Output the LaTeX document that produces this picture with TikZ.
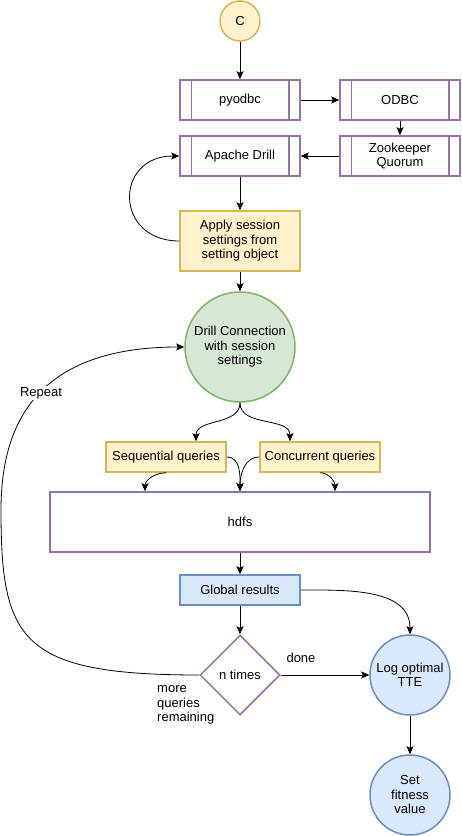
\documentclass[tikz,border=0pt]{standalone}
\usepackage{fontspec}
\setmainfont{Liberation Sans}
\usepackage{tikz}
\usetikzlibrary{arrows.meta}
\usetikzlibrary{shapes.geometric}

\definecolor{yelfill}{HTML}{FFF2CC}
\definecolor{yelline}{HTML}{D6B656}
\definecolor{grnfill}{HTML}{D5E8D4}
\definecolor{grnline}{HTML}{82B366}
\definecolor{bluefill}{HTML}{DAE8FC}
\definecolor{blueline}{HTML}{6C8EBF}
\definecolor{purline}{HTML}{9673A6}

\begin{document}
\begin{tikzpicture}[x=1pt,y=1pt,
    font=\fontsize{13}{14.5}\selectfont,
    every node/.style={align=center, inner sep=0pt},
    subproc/.style={draw=purline, line width=1.5pt, fill=white, minimum width=120pt, minimum height=40pt},
    yelbox/.style={draw=yelline, line width=1.5pt, fill=yelfill, minimum width=120pt},
    bluebox/.style={draw=blueline, line width=1.5pt, fill=bluefill, minimum width=120pt, minimum height=30pt},
    bluecirc/.style={circle, draw=blueline, line width=1.5pt, fill=bluefill, minimum size=80pt},
    flow/.style={-{Stealth[length=8pt,width=7pt,inset=1.5pt]}, line width=0.8pt}]
  \useasboundingbox (0,0) rectangle (462,836);
  \fill[white] (0,0) rectangle (462,836);

  % boxes
  \node [circle, draw=yelline, line width=1.5pt, fill=yelfill, minimum size=40pt] (c) at (240,815) {C};
  \node [subproc] (pyodbc) at (240,736) {pyodbc};
  \node [subproc] (odbc) at (400,736) {ODBC};
  \node [subproc] (drill) at (240,680) {Apache Drill};
  \node [subproc] (zk) at (400,680) {Zookeeper\\Quorum};
  \foreach \n in {pyodbc,odbc,drill,zk} {
    \draw [purline, line width=1.5pt] ([xshift=12pt]\n.north west) -- ([xshift=12pt]\n.south west);
    \draw [purline, line width=1.5pt] ([xshift=-12pt]\n.north east) -- ([xshift=-12pt]\n.south east);
  }
  \node [yelbox, minimum height=60pt] (apply) at (240,595) {Apply session\\settings from\\setting object};
  \node [circle, draw=grnline, line width=1.5pt, fill=grnfill, minimum size=110pt] (conn) at (240,489) {Drill Connection\\with session\\settings};
  \node [yelbox, minimum height=30pt] (seq) at (166,379) {Sequential queries};
  \node [yelbox, minimum height=30pt] (conc) at (320,379) {Concurrent queries};
  \node [draw=purline, line width=1.5pt, minimum width=380pt, minimum height=60pt] (hdfs) at (240,314) {hdfs};
  \node [bluebox] (glob) at (240,246) {Global results};
  \node [diamond, draw=purline, line width=1.5pt, fill=white, minimum width=80pt, minimum height=80pt] (ntimes) at (240,161) {n times};
  \node [bluecirc] (log) at (410,161) {Log optimal\\TTE};
  \node [bluecirc] (fit) at (410,41) {Set\\fitness\\value};

  % arrows
  \draw [flow] (c) -- (pyodbc);
  \draw [flow] (pyodbc) -- (odbc);
  \draw [flow] (odbc) -- (zk);
  \draw [flow] (zk) -- (drill);
  \draw [flow] (drill) -- (apply);
  \draw [flow] (apply.west) .. controls (114,595) and (114,680) .. (drill.west);
  \draw [flow] (apply) -- (conn);
  \draw [flow] (conn.south) to[out=-90,in=90] ([xshift=30pt]seq.north);
  \draw [flow] (conn.south) to[out=-90,in=90] ([xshift=-30pt]conc.north);
  \draw [flow] (seq.south) to[out=180,in=90] ([xshift=-95pt]hdfs.north);
  \draw [flow] (seq.east) to[out=0,in=90] (hdfs.north);
  \draw [flow] (conc.west) to[out=180,in=90] (hdfs.north);
  \draw [flow] (conc.south) to[out=0,in=90] ([xshift=95pt]hdfs.north);
  \draw [flow] (hdfs) -- (glob);
  \draw [flow] (glob) -- (ntimes);
  \draw [flow] (glob.east) to[out=0,in=90] (log.north);
  \draw [flow] (ntimes.east) -- (log.west);
  \draw [flow] (log) -- (fit);
  \draw [flow] (ntimes.west) .. controls (20,161) and (1,196) .. (1,326)
    .. controls (1,416) and (40,489) .. (conn.west);

  % labels
  \node [fill=white, inner sep=1pt] (repeat) at (41,443) {Repeat};
  \node (done) at (301,178) {done};
  \node [anchor=west, align=left] (more) at (157,131) {more\\queries\\remaining};
\end{tikzpicture}
\end{document}
